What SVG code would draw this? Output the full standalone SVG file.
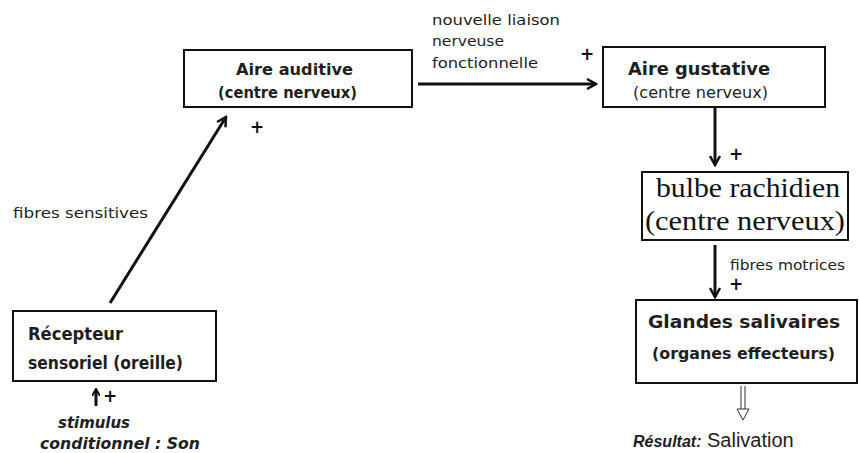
<svg xmlns="http://www.w3.org/2000/svg" width="859" height="453" viewBox="0 0 859 453">
<style>
.box{fill:#fff;stroke:#111;stroke-width:2}
.t{font-family:"DejaVu Sans","Liberation Sans",Arial,sans-serif;fill:#1e1e1e}
.b{font-weight:bold}
.s{font-family:"Liberation Serif","Times New Roman",serif;fill:#111}
.ln{stroke:#111;stroke-width:3;fill:none}
.pl{font-family:"DejaVu Sans",Arial,sans-serif;font-weight:bold;fill:#111;font-size:17px}
</style>
<defs>
<marker id="ah" markerWidth="8" markerHeight="8" refX="6" refY="4" orient="auto" markerUnits="userSpaceOnUse" viewBox="0 0 8 8">
<path d="M0,0 L7,4 L0,8" fill="none" stroke="#111" stroke-width="2"/>
</marker>
<marker id="ah2" markerWidth="12" markerHeight="12" refX="10" refY="6" orient="auto" markerUnits="userSpaceOnUse" viewBox="0 0 12 12">
<path d="M1,1 L10,6 L1,11" fill="none" stroke="#111" stroke-width="2.5"/>
</marker>
</defs>
<rect width="859" height="453" fill="#fff"/>

<g id="connectors">
<line class="ln" x1="110" y1="303" x2="226" y2="117" marker-end="url(#ah2)"/>
<line class="ln" x1="418" y1="84" x2="596" y2="84" marker-end="url(#ah2)"/>
<line class="ln" x1="715" y1="108" x2="715" y2="165" stroke-width="4" marker-end="url(#ah2)"/>
<line class="ln" x1="715" y1="245" x2="715" y2="297" stroke-width="2.5" marker-end="url(#ah2)"/>
<line class="ln" x1="96" y1="406" x2="96" y2="390" stroke-width="2" marker-end="url(#ah)"/>
<g id="result-arrow">
<line x1="741" y1="386" x2="741" y2="410" stroke="#333" stroke-width="1"/>
<line x1="745" y1="386" x2="745" y2="410" stroke="#333" stroke-width="1"/>
<path d="M737,409 L749,409 L743,420 Z" fill="#fff" stroke="#333" stroke-width="1"/>
</g>
<text class="pl" x="250" y="133">+</text>
<text class="pl" x="580" y="60">+</text>
<text class="pl" x="729" y="160">+</text>
<text class="pl" x="729" y="290">+</text>
<text class="pl" x="103" y="402">+</text>
<text class="t" x="13" y="218" font-size="14" textLength="135" lengthAdjust="spacingAndGlyphs">fibres sensitives</text>
<text class="t" x="432" y="25" font-size="14" textLength="128" lengthAdjust="spacingAndGlyphs">nouvelle liaison</text>
<text class="t" x="432" y="46" font-size="14" textLength="72" lengthAdjust="spacingAndGlyphs">nerveuse</text>
<text class="t" x="432" y="68" font-size="14" textLength="106" lengthAdjust="spacingAndGlyphs">fonctionnelle</text>
<text class="t" x="730" y="270" font-size="14" textLength="115" lengthAdjust="spacingAndGlyphs">fibres motrices</text>
</g>

<g id="recepteur">
<rect class="box" x="13" y="311" width="203" height="70"/>
<text class="t b" x="28" y="340" font-size="17" textLength="95" lengthAdjust="spacingAndGlyphs">Récepteur</text>
<text class="t b" x="28" y="369" font-size="17" textLength="155" lengthAdjust="spacingAndGlyphs">sensoriel (oreille)</text>
</g>

<g id="stimulus">
<text class="t b" x="58" y="428" font-size="15" font-style="italic" textLength="72" lengthAdjust="spacingAndGlyphs">stimulus</text>
<text class="t b" x="40" y="449" font-size="15" font-style="italic" textLength="160" lengthAdjust="spacingAndGlyphs">conditionnel : Son</text>
</g>

<g id="aire-auditive">
<rect class="box" x="184" y="50" width="228" height="57"/>
<text class="t b" x="236" y="75" font-size="15" textLength="117" lengthAdjust="spacingAndGlyphs">Aire  auditive</text>
<text class="t b" x="218" y="98" font-size="15" textLength="139" lengthAdjust="spacingAndGlyphs">(centre nerveux)</text>
</g>

<g id="aire-gustative">
<rect class="box" x="603" y="47" width="222" height="60"/>
<text class="t b" x="628" y="75" font-size="18" textLength="142" lengthAdjust="spacingAndGlyphs">Aire gustative</text>
<text class="t" x="633" y="98" font-size="15" textLength="135" lengthAdjust="spacingAndGlyphs">(centre nerveux)</text>
</g>

<g id="bulbe">
<rect class="box" x="642" y="172" width="206" height="68" stroke-width="1.5"/>
<text class="s" x="656" y="197" font-size="27" textLength="184" lengthAdjust="spacingAndGlyphs">bulbe  rachidien</text>
<text class="s" x="645" y="230" font-size="27" textLength="200" lengthAdjust="spacingAndGlyphs">(centre nerveux)</text>
</g>

<g id="glandes">
<rect class="box" x="636" y="300" width="221" height="83"/>
<text class="t b" x="648" y="328" font-size="18" textLength="192" lengthAdjust="spacingAndGlyphs">Glandes salivaires</text>
<text class="t b" x="652" y="359" font-size="16" textLength="183" lengthAdjust="spacingAndGlyphs">(organes effecteurs)</text>
</g>

<g id="resultat">
<text x="633" y="447" font-family="'Liberation Sans',Arial,sans-serif" fill="#1e1e1e" font-size="20"><tspan font-size="16" font-style="italic" font-weight="bold">Résultat:</tspan> Salivation</text>
</g>
</svg>
